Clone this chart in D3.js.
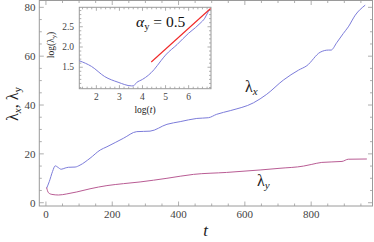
<!DOCTYPE html>
<html><head><meta charset="utf-8">
<script src="https://cdn.jsdelivr.net/npm/d3@7"></script>
<style>body{margin:0;background:#fff}svg{display:block}</style>
</head><body><svg id="c" width="374" height="242" font-family="'Liberation Serif', 'Times New Roman', 'DejaVu Serif', serif"></svg>
<script>
const tX = [2, 10, 20, 28, 36, 46, 58, 68, 88, 103, 133, 164, 184, 234, 274, 314, 365, 405, 455, 490, 515, 556, 626, 666, 716, 762, 787, 827, 852, 860, 877, 897, 912, 933, 963];
const lambdaX = [5.9, 8.6, 12.8, 15.1, 14.5, 13.7, 14.2, 14.5, 14.6, 15.4, 18.2, 21.6, 22.9, 26.4, 29.1, 29.3, 32.1, 33.2, 34.5, 34.8, 36.2, 37.7, 40.9, 44.4, 50.2, 54.3, 56.1, 61.6, 62.5, 62.5, 65.5, 69.3, 72, 76.8, 80.9];
const tY = [2, 7.5, 18, 38, 63, 93, 133, 184, 234, 284, 365, 445, 545, 646, 706, 777, 802, 832, 893, 912, 968];
const lambdaY = [6.2, 4.1, 3.4, 3.15, 3.6, 4.4, 5.7, 7.0, 7.8, 8.5, 10, 11.6, 12.4, 13.4, 14.1, 15.0, 15.7, 16.5, 16.9, 17.8, 17.9];
const logT = [1.26, 1.79, 2.36, 2.94, 3.52, 3.6, 3.74, 4.0, 4.25, 4.5, 4.8, 5.0, 5.5, 6.0, 6.3, 6.49, 6.7, 6.85, 6.92];
const logLambdaY = [1.66, 1.52, 1.27, 1.13, 1.04, 1.04, 1.12, 1.2, 1.3, 1.44, 1.66, 1.80, 2.06, 2.34, 2.48, 2.58, 2.71, 2.87, 2.93];
const fitLogT = [4.38, 6.95];
const fitLogL = [1.63, 2.95];
const mainXTicks = [0, 200, 400, 600, 800];
const mainYTicks = [0, 20, 40, 60, 80];
const insetXTicks = [2, 3, 4, 5, 6];
const insetYTicks = [1.5, 2.0, 2.5];

const svg = d3.select("#c");
const frameCol = "#9a9a9a", labCol = "#444";
const blue = "#7c7cda", purple = "#b95c94", red = "#f02828";

const x = d3.scaleLinear().domain([-20, 985]).range([39.3, 372.5]);
const y = d3.scaleLinear().domain([-1.35, 82.8]).range([206, 0.5]);

function frame(g, xs, ys, xMaj, xMin, yMaj, yMin, L, l) {
  const [x0, x1] = xs.range(), [y0, y1] = ys.range();
  g.append("rect").attr("x", x0).attr("y", y1).attr("width", x1 - x0).attr("height", y0 - y1)
    .attr("fill", "none").attr("stroke", frameCol).attr("stroke-width", 1);
  const tk = g.append("g").attr("stroke", frameCol).attr("stroke-width", 0.8);
  const major = new Set(xMaj.map(v => +v.toFixed(4)));
  xMin.forEach(v => {
    const len = major.has(+v.toFixed(4)) ? L : l, px = xs(v);
    tk.append("line").attr("x1", px).attr("x2", px).attr("y1", y0).attr("y2", y0 - len);
    tk.append("line").attr("x1", px).attr("x2", px).attr("y1", y1).attr("y2", y1 + len);
  });
  const majorY = new Set(yMaj.map(v => +v.toFixed(4)));
  yMin.forEach(v => {
    const len = majorY.has(+v.toFixed(4)) ? L : l, py = ys(v);
    tk.append("line").attr("y1", py).attr("y2", py).attr("x1", x0).attr("x2", x0 + len);
    tk.append("line").attr("y1", py).attr("y2", py).attr("x1", x1).attr("x2", x1 - len);
  });
}
function rng(a, b, s) { const r = []; for (let i = 0; a + i * s <= b + 1e-9; i++) r.push(+(a + i * s).toFixed(4)); return r; }

const main = svg.append("g");
frame(main, x, y, mainXTicks, rng(0, 950, 50), mainYTicks, rng(0, 80, 5), 4.5, 2.5);
main.selectAll(".xl").data(mainXTicks).join("text").attr("x", d => x(d)).attr("y", 218)
  .attr("text-anchor", "middle").attr("font-size", 11).attr("fill", labCol).text(d => d);
main.selectAll(".yl").data(mainYTicks).join("text").attr("x", 35.5).attr("y", d => y(d) + 3.8)
  .attr("text-anchor", "end").attr("font-size", 11).attr("fill", labCol).text(d => d);

const lineMain = d3.line().x(d => x(d[0])).y(d => y(d[1])).curve(d3.curveMonotoneX);
main.append("path").datum(d3.zip(tX, lambdaX)).attr("d", lineMain).attr("fill", "none").attr("stroke", blue).attr("stroke-width", 1);
main.append("path").datum(d3.zip(tY, lambdaY)).attr("d", lineMain).attr("fill", "none").attr("stroke", purple).attr("stroke-width", 1);

// axis labels
const yl = main.append("text").attr("transform", "translate(18,104) rotate(-90)").attr("text-anchor", "middle")
  .attr("font-size", 16).attr("fill", "#222");
yl.append("tspan").text("λ");
yl.append("tspan").attr("font-size", 11).attr("font-style", "italic").attr("dy", 3).text("x");
yl.append("tspan").attr("dy", -3).text(", λ");
yl.append("tspan").attr("font-size", 11).attr("dy", 3).text("y");
main.append("text").attr("x", 205.5).attr("y", 236).attr("text-anchor", "middle").attr("font-size", 17)
  .attr("font-style", "italic").attr("fill", "#222").text("t");

const lx = main.append("text").attr("x", 245).attr("y", 92).attr("font-size", 16).attr("fill", "#222");
lx.append("tspan").text("λ");
lx.append("tspan").attr("font-size", 11).attr("font-style", "italic").attr("dy", 3).text("x");
const ly = main.append("text").attr("x", 257).attr("y", 186).attr("font-size", 16).attr("fill", "#222");
ly.append("tspan").text("λ");
ly.append("tspan").attr("font-size", 11).attr("font-style", "italic").attr("dy", 3).text("y");

// inset
const ix = d3.scaleLinear().domain([1.26, 6.97]).range([79.3, 211]);
const iy = d3.scaleLinear().domain([0.97, 2.98]).range([88.7, 7.3]);
const inset = svg.append("g");
inset.append("rect").attr("x", 79.3).attr("y", 7.3).attr("width", 211 - 79.3).attr("height", 88.7 - 7.3).attr("fill", "#fff");
frame(inset, ix, iy, insetXTicks, rng(1.4, 6.8, 0.2), insetYTicks, rng(1.0, 2.9, 0.1), 3.5, 2);
inset.selectAll(".ixl").data(insetXTicks).join("text").attr("x", d => ix(d)).attr("y", 99.5)
  .attr("text-anchor", "middle").attr("font-size", 9.5).attr("fill", labCol).text(d => d);
inset.selectAll(".iyl").data(insetYTicks).join("text").attr("x", 74).attr("y", d => iy(d) + 3)
  .attr("text-anchor", "end").attr("font-size", 9.5).attr("fill", labCol).text(d => d.toFixed(1));
const lineIn = d3.line().x(d => ix(d[0])).y(d => iy(d[1])).curve(d3.curveMonotoneX);
inset.append("path").datum(d3.zip(logT, logLambdaY)).attr("d", lineIn).attr("fill", "none").attr("stroke", blue).attr("stroke-width", 1);
inset.append("path").datum(d3.zip(fitLogT, fitLogL)).attr("d", d3.line().x(d => ix(d[0])).y(d => iy(d[1])))
  .attr("fill", "none").attr("stroke", red).attr("stroke-width", 1.1);
const ixl = inset.append("text").attr("x", 145).attr("y", 113).attr("text-anchor", "middle").attr("font-size", 9.5).attr("fill", "#222");
ixl.append("tspan").text("log(");
ixl.append("tspan").attr("font-style", "italic").text("t");
ixl.append("tspan").text(")");
const iyl = inset.append("text").attr("transform", "translate(54,45) rotate(-90)").attr("text-anchor", "middle").attr("font-size", 9.5).attr("fill", "#222");
iyl.append("tspan").text("log(λ");
iyl.append("tspan").attr("font-size", 6.5).attr("dy", 2).text("y");
iyl.append("tspan").attr("dy", -2).text(")");
const al = inset.append("text").attr("x", 136).attr("y", 27).attr("font-size", 15.5).attr("fill", "#111");
al.append("tspan").attr("font-style", "italic").text("α");
al.append("tspan").attr("font-size", 10.5).attr("dy", 3).text("y");
al.append("tspan").attr("dy", -3).text(" = 0.5");
</script></body></html>
